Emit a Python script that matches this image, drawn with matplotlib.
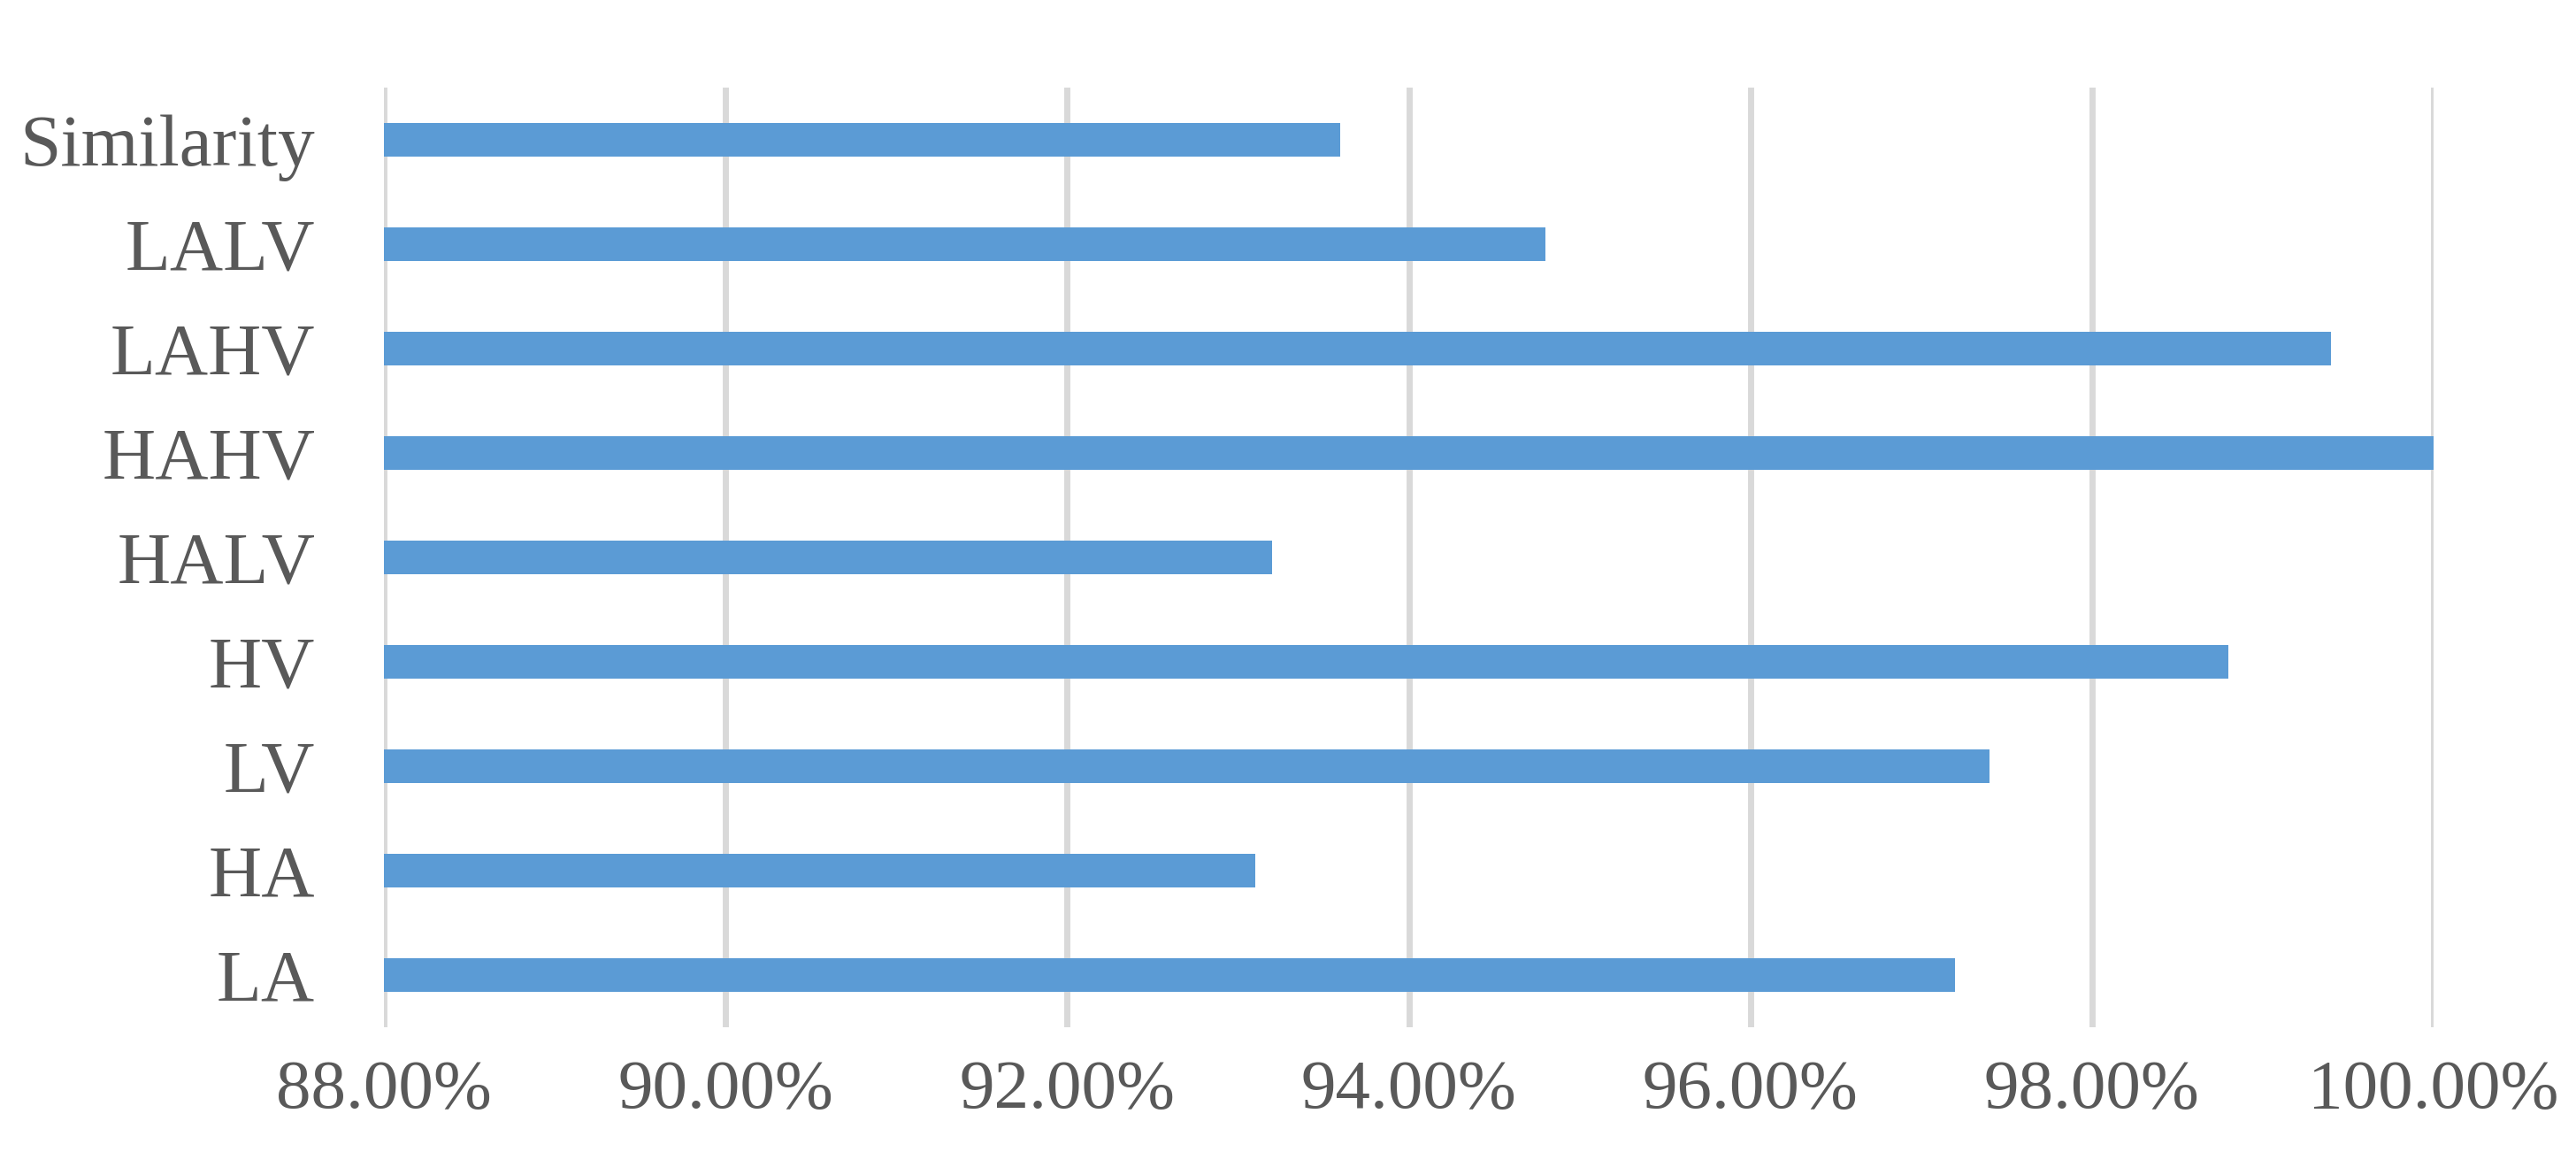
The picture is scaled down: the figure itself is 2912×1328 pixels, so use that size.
import matplotlib
matplotlib.use("Agg")
import matplotlib.pyplot as plt
from matplotlib.ticker import FuncFormatter

categories = ["LA", "HA", "LV", "HV", "HALV", "HAHV", "LAHV", "LALV", "Similarity"]
values = [97.20, 93.10, 97.40, 98.80, 93.20, 100.00, 99.40, 94.80, 93.60]
xticks = [88, 90, 92, 94, 96, 98, 100]

text_color = "#595959"
bar_color = "#5B9BD5"
grid_color = "#D9D9D9"

plt.rcParams["font.family"] = ["Liberation Serif", "DejaVu Serif"]

fig = plt.figure(figsize=(14.56, 6.64), dpi=200)
ax = fig.add_axes([434 / 2912, 1 - 1161 / 1328, (2751 - 434) / 2912, (1161 - 99) / 1328])

ypos = list(range(len(categories)))
ax.barh(ypos, [v - 88 for v in values], left=88, height=0.32, color=bar_color, zorder=3)

ax.set_xlim(88, 100)
ax.set_ylim(-0.5, len(categories) - 0.5)
ax.set_xticks(xticks)
ax.xaxis.set_major_formatter(FuncFormatter(lambda v, p: f"{v:.2f}%"))
ax.set_yticks(ypos)
ax.set_yticklabels(categories)

ax.grid(axis="x", color=grid_color, linewidth=2.5, zorder=0)
ax.grid(axis="y", visible=False)
ax.set_axisbelow(True)
for s in ax.spines.values():
    s.set_visible(False)

ax.tick_params(axis="x", length=0, pad=13, labelsize=28.5, labelcolor=text_color)
ax.tick_params(axis="y", length=0, pad=28, labelsize=30, labelcolor=text_color)

fig.savefig("out.png", dpi=200, facecolor="white")
